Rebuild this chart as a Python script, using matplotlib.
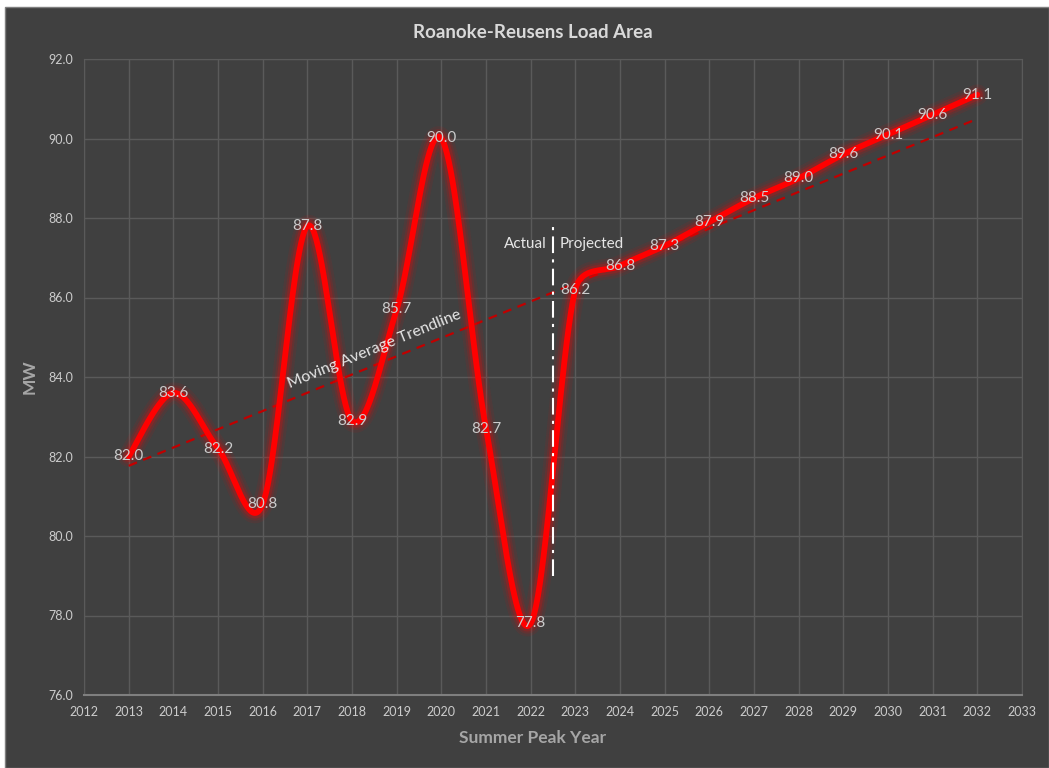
import numpy as np
import matplotlib
matplotlib.use("Agg")
import matplotlib.pyplot as plt
from matplotlib.patches import Rectangle

# Datos del gráfico
years = [2013, 2014, 2015, 2016, 2017, 2018, 2019, 2020, 2021, 2022,
         2023, 2024, 2025, 2026, 2027, 2028, 2029, 2030, 2031, 2032]
load_mw = [82.0, 83.6, 82.2, 80.8, 87.8, 82.9, 85.7, 90.0, 82.7, 77.8,
           86.2, 86.8, 87.3, 87.9, 88.5, 89.0, 89.6, 90.1, 90.6, 91.1]
x_ticks = list(range(2012, 2034))
y_ticks = [76.0, 78.0, 80.0, 82.0, 84.0, 86.0, 88.0, 90.0, 92.0]
split_year = 2022.5
split_range = [79.0, 87.8]

bg = "#404040"
grid_c = "#5a5a5a"
text_c = "#cccccc"

plt.rcParams['font.family'] = ['Lato', 'DejaVu Sans']


# suavizado tipo Excel: Bezier, brazo de control = min(|P2-P0|/6, |P2-P1|/2)
def smooth_line(x, y, sx=1.0, sy=1.0, n=50):
    pts = np.column_stack([np.asarray(x, float) * sx, np.asarray(y, float) * sy])
    out = []
    for i in range(len(pts) - 1):
        p0 = pts[max(i - 1, 0)]
        p1 = pts[i]
        p2 = pts[i + 1]
        p3 = pts[min(i + 2, len(pts) - 1)]
        d12 = np.hypot(*(p2 - p1))
        v1 = p2 - p0
        v2 = p3 - p1
        n1 = np.hypot(*v1)
        n2 = np.hypot(*v2)
        c1 = p1 + v1 / n1 * min(n1 / 6, d12 / 2) if n1 > 0 else p1
        c2 = p2 - v2 / n2 * min(n2 / 6, d12 / 2) if n2 > 0 else p2
        t = np.linspace(0, 1, n)[:, None]
        seg = ((1 - t) ** 3) * p1 + 3 * ((1 - t) ** 2) * t * c1 + 3 * (1 - t) * t ** 2 * c2 + t ** 3 * p2
        out.append(seg)
    out = np.vstack(out)
    return out[:, 0] / sx, out[:, 1] / sy


fig = plt.figure(figsize=(10.49, 7.68), dpi=100, facecolor="white")
fig.patches.append(Rectangle((5 / 1049, 0), 1 - 5 / 1049, 1 - 7 / 768,
                             transform=fig.transFigure, facecolor=bg,
                             edgecolor="#7f7f7f", lw=1, zorder=-10))
ax = fig.add_axes([84 / 1049, 1 - 695 / 768, (1022 - 84) / 1049, (695 - 59) / 768])
ax.set_facecolor(bg)

ax.set_xlim(2012, 2033)
ax.set_ylim(76, 92)
ax.set_xticks(x_ticks)
ax.set_yticks(y_ticks)
ax.set_yticklabels(["%.1f" % v for v in y_ticks])
ax.grid(True, color=grid_c, lw=1)
ax.set_axisbelow(True)
for s in ["top", "right", "left"]:
    ax.spines[s].set_color(grid_c)
ax.spines["bottom"].set_color("#7f7f7f")
ax.spines["bottom"].set_linewidth(1.5)
ax.tick_params(length=0, colors=text_c, labelsize=9, pad=8)

# linea de tendencia (regresion lineal)
coef = np.polyfit(years, load_mw, 1)
trend = np.polyval(coef, years)
ax.plot([years[0], years[-1]], [trend[0], trend[-1]], color="#c00000", lw=1.6,
        dashes=(4, 3), zorder=3)

# linea suavizada con brillo
px_x = 938 / 21
px_y = 636 / 16
sx, sy = smooth_line(years, load_mw, px_x, px_y)
for lw, a in [(15, 0.08), (11, 0.12), (8, 0.2)]:
    ax.plot(sx, sy, color="red", lw=lw, alpha=a, solid_capstyle="round", zorder=4)
ax.plot(sx, sy, color="red", lw=4.2, solid_capstyle="round", zorder=5)

# etiquetas de datos
for xv, yv in zip(years, load_mw):
    ax.text(xv, yv, "%.1f" % yv, color=text_c, fontsize=11, ha="center",
            va="center", zorder=6)

# separacion actual / proyectado
ax.plot([split_year, split_year], split_range, color="white", lw=1.5,
        dashes=(8, 3, 1.5, 3), zorder=6)
ax.text(split_year - 0.15, 87.35, "Actual", color="#e6e6e6", fontsize=11,
        ha="right", va="center", zorder=6)
ax.text(split_year + 0.15, 87.35, "Projected", color="#e6e6e6", fontsize=11,
        ha="left", va="center", zorder=6)

ang = np.degrees(np.arctan(coef[0] * px_y / px_x))
ax.text(2018.5, 84.7, "Moving Average Trendline", color="#e6e6e6",
        fontsize=11.5, ha="center", va="center", rotation=ang,
        rotation_mode="anchor", zorder=6)

fig.text(0.508, 1 - 33 / 768, "Roanoke-Reusens Load Area", color="#d9d9d9",
         fontsize=13.5, fontweight="bold", ha="center", va="center")
fig.text(0.508, 1 - 738 / 768, "Summer Peak Year", color="#a6a6a6",
         fontsize=12.5, fontweight="bold", ha="center", va="center")
fig.text(30 / 1049, 1 - 377 / 768, "MW", color="#a6a6a6", fontsize=12.5,
         fontweight="bold", ha="center", va="center", rotation=90)

fig.savefig("out.png", dpi=100, facecolor=fig.get_facecolor())
